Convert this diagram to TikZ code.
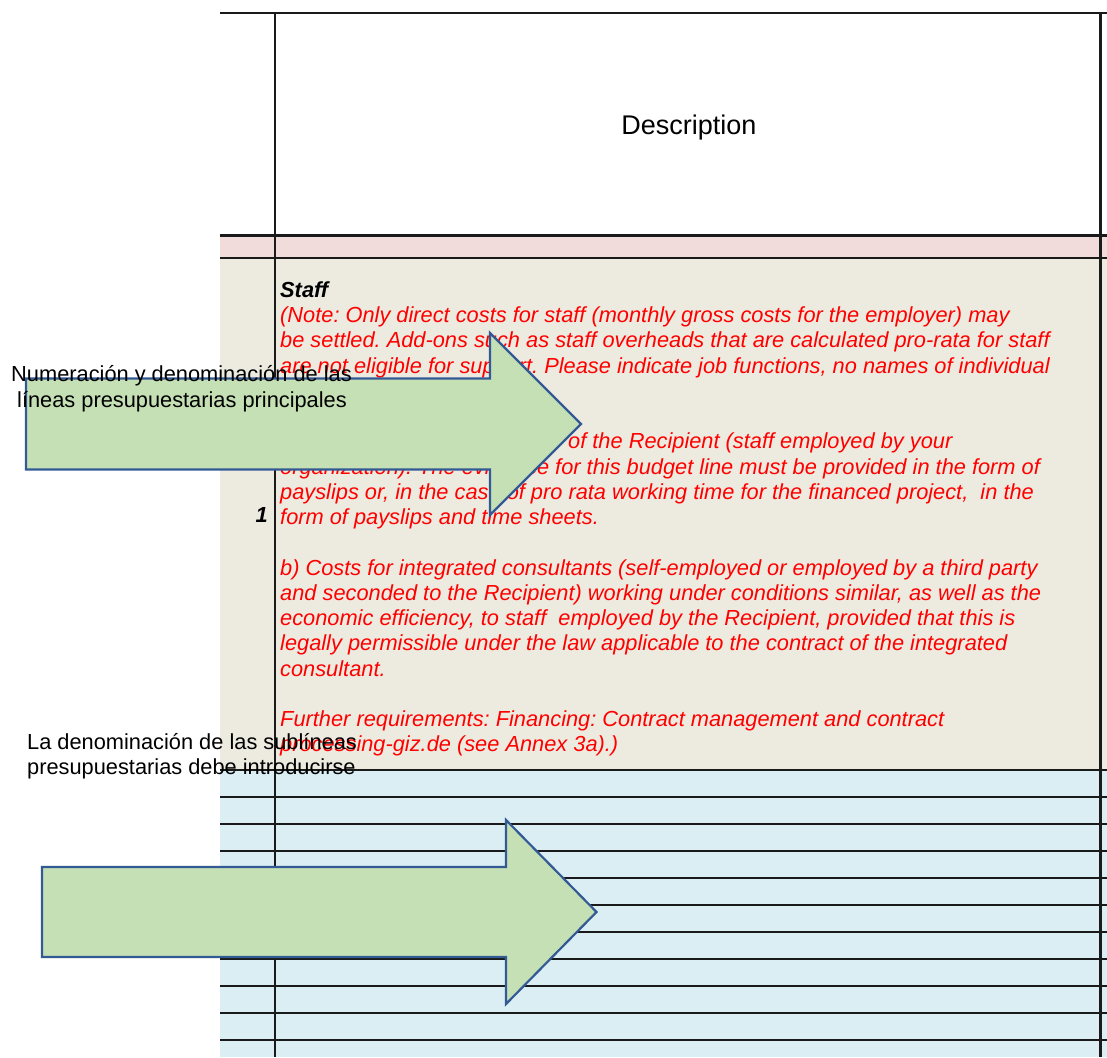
\documentclass[tikz,border=0pt]{standalone}
\usepackage{fontspec}
\setmainfont{Liberation Sans}
\frenchspacing
\definecolor{beigefill}{HTML}{EDEBE0}
\definecolor{pinkfill}{HTML}{F2DCDB}
\definecolor{bluefill}{HTML}{DAEEF3}
\definecolor{arrowgreen}{HTML}{C5E0B4}
\definecolor{arrowblue}{HTML}{335A95}
\definecolor{gridline}{HTML}{1A1A1A}
\begin{document}
\begin{tikzpicture}[x=1pt,y=-1pt,
  grid/.style={draw=gridline,line width=2.2pt},
  redtxt/.style={anchor=base west,inner sep=0pt,text=red,font=\fontsize{21.8}{25}\selectfont\frenchspacing\itshape},
  blacktxt/.style={inner sep=0pt,text=black,font=\fontsize{21.8}{25}\selectfont},
  blockarrow/.style={fill=arrowgreen,draw=arrowblue,line width=2.2pt,line join=miter}]
\useasboundingbox (0,0) rectangle (1107,1057);
\fill[white] (0,0) rectangle (1107,1057);
% cell fills
\fill[pinkfill] (220,236) rectangle (1107,258);
\fill[beigefill] (220,258) rectangle (1107,770);
\fill[bluefill] (220,770) rectangle (1107,1057);
% grid
\draw[grid] (220,13) -- (1107,13);
\draw[grid,line width=2.8pt] (220,235.5) -- (1107,235.5);
\draw[grid] (220,258) -- (1107,258);
\draw[grid] (220,770) -- (1107,770);
\foreach \yy in {797,824,...,1040} \draw[grid] (220,\yy) -- (1107,\yy);
\draw[grid] (275,13) -- (275,1057);
\draw[grid] (1100.5,13) -- (1100.5,1057);
% header
\node[anchor=base,inner sep=0pt,font=\fontsize{27}{30}\selectfont] (desc) at (689,134) {Description};
% staff cell
\node[anchor=base west,inner sep=0pt,font=\fontsize{21.8}{25}\selectfont\bfseries\itshape] (staff) at (280,297.3) {Staff};
\node[anchor=base east,inner sep=0pt,font=\fontsize{21.8}{25}\selectfont\bfseries\itshape] (num) at (268,522.5) {1};
\node[redtxt] (t0) at (280,322.5) {(Note: Only direct costs for staff (monthly gross costs for the employer) may};
\node[redtxt] (t1) at (280,347.7) {be settled. Add-ons such as staff overheads that are calculated pro-rata for staff};
\node[redtxt] (t2) at (280,373.0) {are not eligible for support. Please indicate job functions, no names of individual};
\node[redtxt] (t5) at (568,448.7) {of the Recipient (staff employed by your};
\node[redtxt] (t6) at (280,474.0) {organization). The evidence for this budget line must be provided in the form of};
\node[redtxt] (t7) at (280,499.2) {payslips or, in the case of pro rata working time for the financed project,~ in the};
\node[redtxt] (t8) at (280,524.5) {form of payslips and time sheets.};
\node[redtxt] (t10) at (280,575.0) {b) Costs for integrated consultants (self-employed or employed by a third party};
\node[redtxt] (t11) at (280,600.2) {and seconded to the Recipient) working under conditions similar, as well as the};
\node[redtxt] (t12) at (280,625.5) {economic efficiency, to staff~ employed by the Recipient, provided that this is};
\node[redtxt] (t13) at (280,650.7) {legally permissible under the law applicable to the contract of the integrated};
\node[redtxt] (t14) at (280,676.0) {consultant.};
\node[redtxt] (t16) at (280,726.5) {Further requirements: Financing: Contract management and contract};
\node[redtxt] (t17) at (280,751.7) {processing-giz.de (see Annex 3a).)};
% block arrows
\draw[blockarrow] (26,378.5) -- (490,378.5) -- (490,333) -- (581,424) -- (490,515) -- (490,469.5) -- (26,469.5) -- cycle;
\draw[blockarrow] (42,867) -- (506,867) -- (506,820) -- (596.5,912) -- (506,1004) -- (506,957) -- (42,957) -- cycle;
% labels
\node[blacktxt,anchor=base] (la1) at (181.5,381.7) {Numeración y denominación de las};
\node[blacktxt,anchor=base] (la2) at (182,407) {líneas presupuestarias principales};
\node[blacktxt,anchor=base west] (lb1) at (27,749.3) {La denominación de las sublíneas};
\node[blacktxt,anchor=base west] (lb2) at (27,774) {presupuestarias debe introducirse};
\end{tikzpicture}
\end{document}
